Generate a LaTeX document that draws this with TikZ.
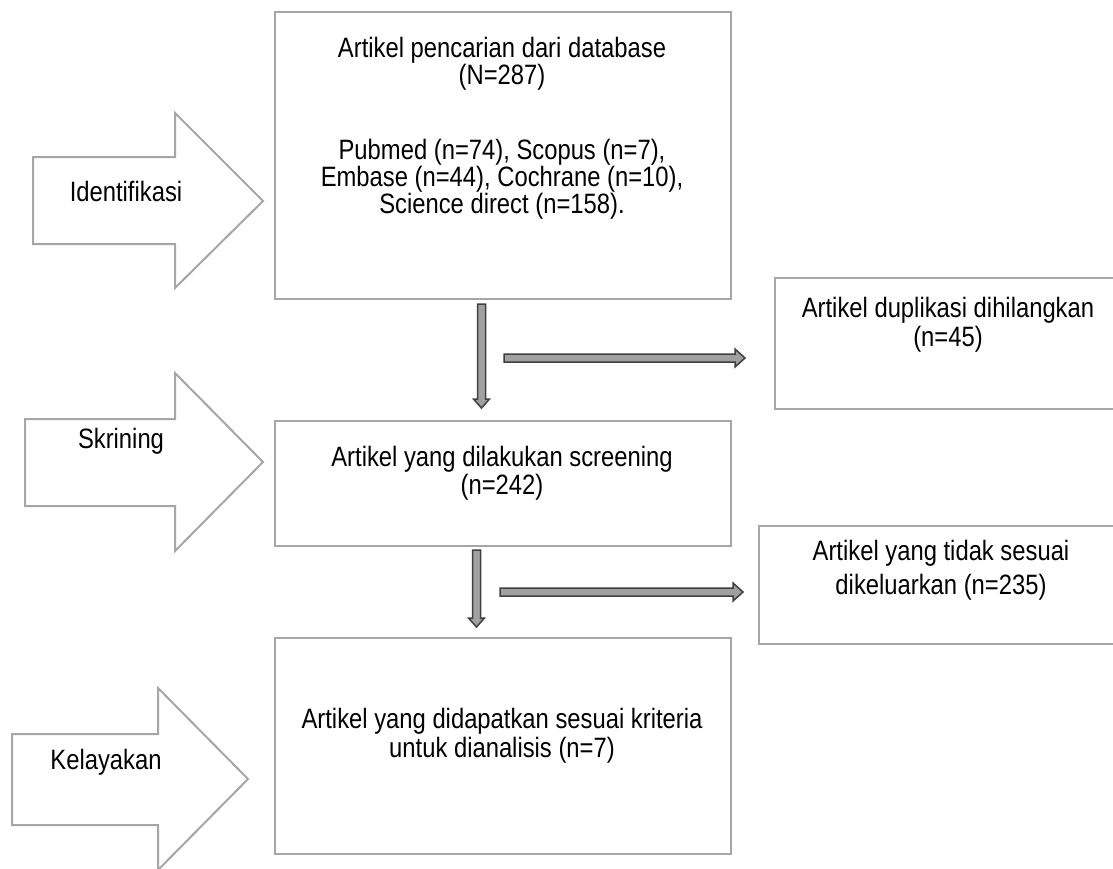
\documentclass[tikz,border=0pt]{standalone}
\usepackage{fontspec}
\setmainfont{Liberation Sans}[FakeStretch=0.85]
\usetikzlibrary{calc}
\definecolor{boxgray}{RGB}{166,166,166}
\definecolor{arrdark}{RGB}{64,64,64}
\definecolor{arrfill}{RGB}{160,160,160}
\newcommand\myVarrow[2]{%
  \filldraw[smallarr] ($(#1)+(-4,0)$) -- ($(#2)+(-4,-9)$) -- ($(#2)+(-8,-9)$) -- (#2)
    -- ($(#2)+(8,-9)$) -- ($(#2)+(4,-9)$) -- ($(#1)+(4,0)$) -- cycle;}
\newcommand\myHarrow[2]{%
  \filldraw[smallarr] ($(#1)+(0,-4)$) -- ($(#2)+(-10,-4)$) -- ($(#2)+(-10,-9)$) -- (#2)
    -- ($(#2)+(-10,9)$) -- ($(#2)+(-10,4)$) -- ($(#1)+(0,4)$) -- cycle;}
\begin{document}
\begin{tikzpicture}[x=1pt,y=-1pt,
  box/.style={draw=boxgray,line width=2pt,fill=white,inner sep=0pt,anchor=north west},
  txt/.style={font=\fontsize{28}{28}\selectfont,inner sep=0pt,anchor=base,text=black},
  bigarr/.style={draw=boxgray,line width=2pt,fill=white,line join=miter},
  smallarr/.style={draw=arrdark,fill=arrfill,line width=1.5pt,line join=miter}]
\useasboundingbox (0,0) rectangle (1113,868);
\clip (0,0) rectangle (1113,868);
\fill[white] (0,0) rectangle (1113,868);

% stage arrows
\draw[bigarr] (33,157) -- (175,157) -- (175,113) -- (263,201) -- (175,288) -- (175,244) -- (33,244) -- cycle;
\draw[bigarr] (25,419) -- (175,419) -- (175,373) -- (263,462) -- (175,551) -- (175,506) -- (25,506) -- cycle;
\draw[bigarr] (12,734) -- (158,734) -- (158,688) -- (248,779) -- (158,870) -- (158,825) -- (12,825) -- cycle;
\node[txt] (lid) at (126,201) {Identifikasi};
\node[txt] (lsk) at (121,448) {Skrining};
\node[txt] (lke) at (106,769) {Kelayakan};

% boxes
\node[box,minimum width=456pt,minimum height=287pt] (b1) at (274,11) {};
\node[box,minimum width=456pt,minimum height=125pt] (b2) at (274,420) {};
\node[box,minimum width=456pt,minimum height=216pt] (b3) at (274,637) {};
\node[box,minimum width=350pt,minimum height=131pt] (d1) at (774,277) {};
\node[box,minimum width=366pt,minimum height=118pt] (d2) at (758,525) {};

% texts
\node[txt] (t1a) at (502,57) {Artikel pencarian dari database};
\node[txt] (t1b) at (502,84) {(N=287)};
\node[txt] (t1c) at (502,159) {Pubmed (n=74), Scopus (n=7),};
\node[txt] (t1d) at (502,186) {Embase (n=44), Cochrane (n=10),};
\node[txt] (t1e) at (502,213) {Science direct (n=158).};
\node[txt] (t2a) at (502,466) {Artikel yang dilakukan screening};
\node[txt] (t2b) at (502,494) {(n=242)};
\node[txt] (t3a) at (502,728) {Artikel yang didapatkan sesuai kriteria};
\node[txt] (t3b) at (502,757) {untuk dianalisis (n=7)};
\node[txt] (tda) at (948,317) {Artikel duplikasi dihilangkan};
\node[txt] (tdb) at (948,346) {(n=45)};
\node[txt] (tea) at (941,560) {Artikel yang tidak sesuai};
\node[txt] (teb) at (941,594) {dikeluarkan (n=235)};

% connectors
\coordinate (v1s) at (481.5,304);
\coordinate (v1e) at (481.5,408);
\coordinate (h1s) at (504,358);
\coordinate (h1e) at (745,358);
\coordinate (v2s) at (476.5,550);
\coordinate (v2e) at (476.5,627);
\coordinate (h2s) at (500,592);
\coordinate (h2e) at (743,592);
\myVarrow{v1s}{v1e}
\myHarrow{h1s}{h1e}
\myVarrow{v2s}{v2e}
\myHarrow{h2s}{h2e}
\end{tikzpicture}
\end{document}
